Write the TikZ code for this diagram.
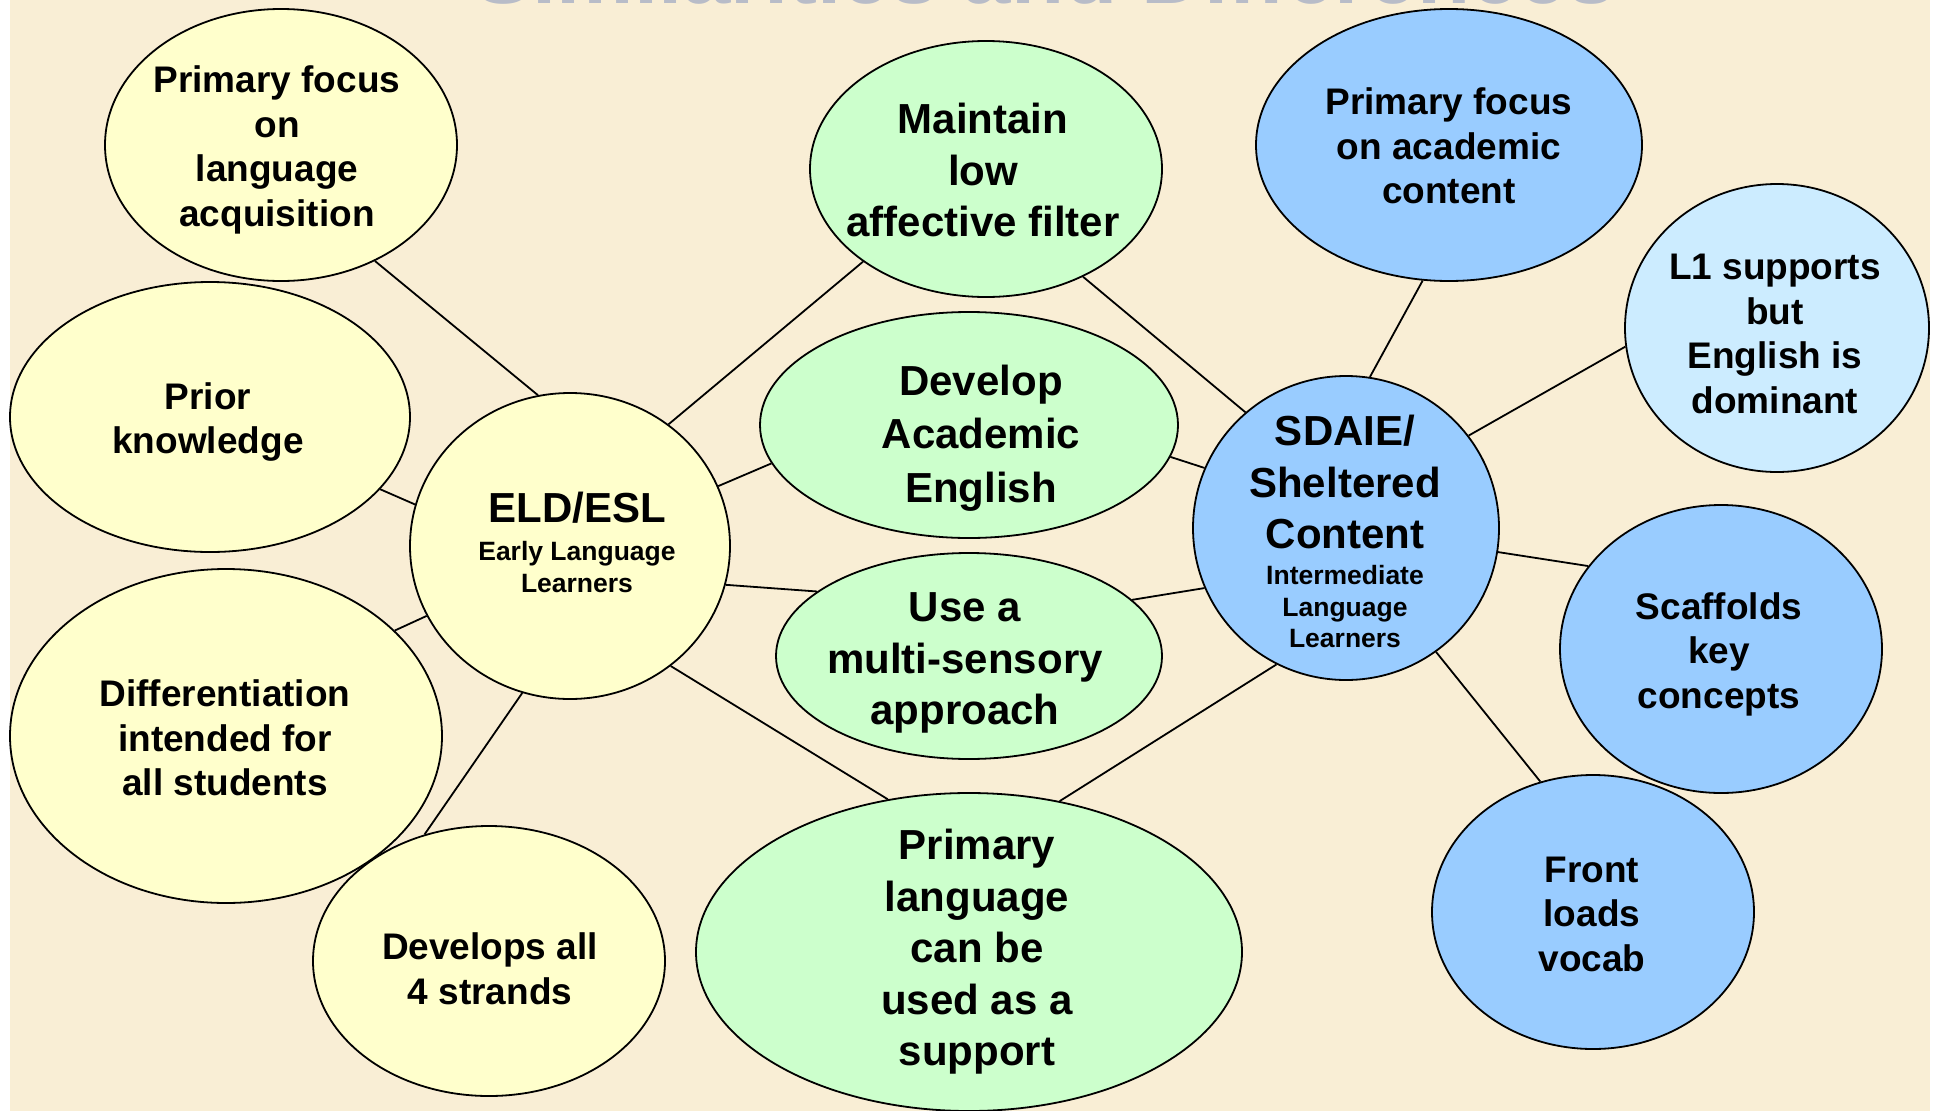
\documentclass[tikz,border=0pt]{standalone}
\usepackage{fontspec}
\setmainfont{Liberation Sans}
\usetikzlibrary{shapes.geometric}
\definecolor{bg}{RGB}{249,238,213}
\definecolor{yel}{RGB}{255,255,204}
\definecolor{grn}{RGB}{204,255,204}
\definecolor{blu}{RGB}{153,204,255}
\definecolor{lblu}{RGB}{204,236,255}
\definecolor{ttl}{RGB}{184,188,200}
\tikzset{
  bub/.style={ellipse, draw=black, line width=1.8pt, inner sep=0pt},
  outt/.style={font=\bfseries\fontsize{37}{44.5}\selectfont, align=center, inner sep=0pt},
  bigt/.style={font=\bfseries\fontsize{42}{51.5}\selectfont, align=center, inner sep=0pt},
  smt/.style={font=\bfseries\fontsize{26.5}{31.5}\selectfont, align=center, inner sep=0pt},
  con/.style={line width=1.8pt, draw=black}
}
\begin{document}
\begin{tikzpicture}[x=1pt,y=-1pt]
\useasboundingbox (0,0) rectangle (1939,1111);
\fill[white] (0,0) rectangle (1939,1111);
\fill[bg] (10,0) rectangle (1930,1111);
\begin{scope}
\clip (0,0) rectangle (1939,1111);
\node[anchor=base, text=ttl, inner sep=0pt, font=\bfseries\fontsize{87}{100}\selectfont] (title) at (1045,3) {Similarities and Differences};
\end{scope}

% ellipses
\node[bub, fill=yel, minimum width=352pt, minimum height=272pt] (pfl) at (281,145) {};
\node[bub, fill=yel, minimum width=400pt, minimum height=270pt] (prior) at (210,417) {};
\node[bub, fill=yel, minimum width=320pt, minimum height=306pt] (eld) at (570,546) {};
\node[bub, fill=yel, minimum width=432pt, minimum height=334pt] (diff) at (226,736) {};
\node[bub, fill=yel, minimum width=352pt, minimum height=270pt] (dev) at (489,961) {};
\node[bub, fill=grn, minimum width=352pt, minimum height=256pt] (maint) at (986,169) {};
\node[bub, fill=grn, minimum width=418pt, minimum height=226pt] (acad) at (969,425) {};
\node[bub, fill=grn, minimum width=386pt, minimum height=206pt] (multi) at (969,656) {};
\node[bub, fill=grn, minimum width=546pt, minimum height=318pt] (plang) at (969,952) {};
\node[bub, fill=blu, minimum width=386pt, minimum height=272pt] (pfa) at (1449,145) {};
\node[bub, fill=blu, minimum width=306pt, minimum height=304pt] (sdaie) at (1346,528) {};
\node[bub, fill=lblu, minimum width=304pt, minimum height=288pt] (lone) at (1777,328) {};
\node[bub, fill=blu, minimum width=322pt, minimum height=288pt] (scaf) at (1721,649) {};
\node[bub, fill=blu, minimum width=322pt, minimum height=274pt] (front) at (1593,912) {};

% texts
\node[outt] (tpfl) at (277,150) {Primary focus\\on\\language\\acquisition};
\node[outt] (tprior) at (208,422) {Prior\\knowledge};
\node[bigt] (teld) at (577,508) {ELD/ESL};
\node[smt] (teld2) at (577,567) {Early Language\\Learners};
\node[outt] (tdiff) at (225,738) {Differentiation\\intended for\\all students};
\node[outt] (tdev) at (490,969) {Develops all\\4 strands};
\node[bigt] (tmaint) at (983,170) {Maintain\\low\\affective filter};
\node[bigt, font=\bfseries\fontsize{42}{53.5}\selectfont] (tacad) at (981,438) {Develop\\Academic\\English};
\node[bigt] (tmulti) at (965,663) {Use a\\multi-sensory\\approach};
\node[bigt] (tplang) at (977,952) {Primary\\language\\can be\\used as a\\support};
\node[outt] (tpfa) at (1449,146) {Primary focus\\on academic\\content};
\node[bigt] (tsdaie) at (1345,482) {SDAIE/\\Sheltered\\Content};
\node[smt] (tsdaie2) at (1345,607) {Intermediate\\Language\\Learners};
\node[outt] (tlone) at (1775,334) {L1 supports\\but\\English is\\dominant};
\node[outt] (tscaf) at (1719,654) {Scaffolds\\key\\concepts};
\node[outt] (tfront) at (1592,914) {Front\\loads\\vocab};

% connectors
\draw[con] (pfl.-51) -- (eld.102);
\draw[con] (prior.-23) -- (eld.165);
\draw[con] (diff.32) -- (eld.206);
\draw[con] (dev.117) -- (eld.252);
\draw[con] (eld.51) -- (maint.217);
\draw[con] (eld.22) -- (acad.191);
\draw[con] (eld.-14) -- (multi.157);
\draw[con] (eld.-50) -- (plang.118);
\draw[con] (maint.-48) -- (sdaie.131);
\draw[con] (acad.-9) -- (sdaie.157);
\draw[con] (multi.19) -- (sdaie.203);
\draw[con] (plang.59) -- (sdaie.243);
\draw[con] (sdaie.81) -- (pfa.259);
\draw[con] (sdaie.37) -- (lone.187);
\draw[con] (sdaie.-9) -- (scaf.148);
\draw[con] (sdaie.-54) -- (front.112);
\end{tikzpicture}
\end{document}
